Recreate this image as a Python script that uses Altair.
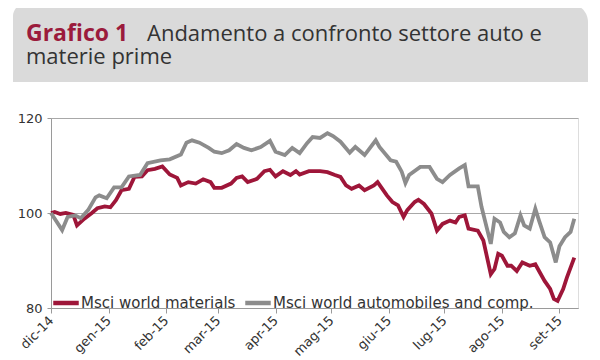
import altair as alt
import pandas as pd

# ---- data ----
auto_dates = ["2014-12-01","2014-12-07","2014-12-10","2014-12-14","2014-12-17","2014-12-21","2014-12-25",
              "2014-12-27","2014-12-31","2015-01-04","2015-01-08","2015-01-12","2015-01-18","2015-01-22",
              "2015-01-29","2015-02-03","2015-02-09","2015-02-12","2015-02-15","2015-02-19","2015-02-24",
              "2015-02-27","2015-03-03","2015-03-07","2015-03-11","2015-03-15","2015-03-19","2015-03-24",
              "2015-03-29","2015-04-01","2015-04-06","2015-04-10","2015-04-14","2015-04-18","2015-04-21",
              "2015-04-25","2015-04-29","2015-05-02","2015-05-06","2015-05-11","2015-05-14","2015-05-19",
              "2015-05-25","2015-05-27","2015-06-02","2015-06-05","2015-06-08","2015-06-10","2015-06-12",
              "2015-06-18","2015-06-23","2015-06-27","2015-06-30","2015-07-04","2015-07-09","2015-07-12",
              "2015-07-14","2015-07-19","2015-07-21","2015-07-26","2015-07-28","2015-07-31","2015-08-02",
              "2015-08-05","2015-08-08","2015-08-11","2015-08-13","2015-08-16","2015-08-19","2015-08-21",
              "2015-08-24","2015-08-27","2015-08-30","2015-09-01","2015-09-04","2015-09-07","2015-09-09"]
auto_values = [100, 96.4, 99.2, 99.5, 98.9, 100.6, 103.3,
               103.7, 103.1, 105.4, 105.4, 107.7, 108.0, 110.5,
               111.1, 111.3, 112.3, 114.8, 115.3, 114.8, 113.7,
               112.9, 112.6, 113.2, 114.5, 113.7, 113.2, 113.9,
               115.2, 112.9, 112.2, 113.7, 112.6, 114.7, 116.0,
               115.8, 116.8, 116.2, 115.0, 112.7, 113.9, 112.2,
               115.3, 113.9, 111.1, 110.8, 108.7, 106.3, 108.0,
               109.7, 109.7, 107.2, 106.5, 108.0, 109.4, 110.1,
               105.6, 105.6, 101.3, 93.5, 98.8, 98.0, 96.0,
               94.9, 95.7, 99.5, 97.4, 96.7, 100.9, 98.4,
               94.9, 93.8, 89.6, 93.0, 94.9, 96.0, 98.8]

mat_dates = ["2014-12-01","2014-12-03","2014-12-06","2014-12-09","2014-12-13","2014-12-15","2014-12-19",
             "2014-12-23","2014-12-26","2014-12-30","2015-01-02","2015-01-05","2015-01-08","2015-01-12",
             "2015-01-15","2015-01-19","2015-01-22","2015-01-26","2015-01-30","2015-02-03","2015-02-07",
             "2015-02-09","2015-02-13","2015-02-17","2015-02-21","2015-02-25","2015-02-27","2015-03-03",
             "2015-03-08","2015-03-11","2015-03-14","2015-03-17","2015-03-22","2015-03-26","2015-03-29",
             "2015-04-01","2015-04-05","2015-04-09","2015-04-12","2015-04-14","2015-04-19","2015-04-25",
             "2015-04-29","2015-05-03","2015-05-06","2015-05-09","2015-05-12","2015-05-16","2015-05-19",
             "2015-05-24","2015-05-26","2015-05-31","2015-06-03","2015-06-06","2015-06-09","2015-06-11",
             "2015-06-15","2015-06-17","2015-06-20","2015-06-24","2015-06-27","2015-06-30","2015-07-04",
             "2015-07-07","2015-07-09","2015-07-12","2015-07-14","2015-07-19","2015-07-22","2015-07-26",
             "2015-07-28","2015-07-30","2015-08-01","2015-08-04","2015-08-06","2015-08-09","2015-08-12",
             "2015-08-16","2015-08-19","2015-08-21","2015-08-24","2015-08-27","2015-08-29","2015-08-31",
             "2015-09-03","2015-09-05","2015-09-09"]
mat_values = [100, 100.2, 99.8, 100.0, 99.6, 97.4, 98.8,
              100.0, 101.0, 101.4, 101.2, 102.7, 104.8, 105.1,
              107.6, 107.7, 109.0, 109.3, 109.8, 108.1, 107.4,
              105.8, 106.5, 106.2, 107.1, 106.5, 105.3, 105.3,
              106.2, 107.4, 107.7, 106.5, 107.2, 108.8, 109.1,
              107.7, 108.8, 108.0, 108.8, 108.1, 108.8, 108.8,
              108.6, 108.0, 107.6, 105.8, 105.1, 105.8, 104.8,
              105.8, 106.5, 103.7, 102.3, 101.6, 99.2, 100.6,
              102.3, 102.8, 101.9, 99.9, 96.3, 97.7, 98.4,
              98.0, 99.2, 99.5, 96.7, 96.3, 94.2, 87.1,
              88.2, 91.4, 91.0, 88.9, 88.9, 87.8, 89.6,
              88.9, 89.2, 87.8, 85.7, 84.0, 81.9, 81.5,
              84.0, 86.4, 90.6]

series_names = ["Msci world materials", "Msci world automobiles and comp."]
series_colors = ["#9e1639", "#8c8c8c"]
y_ticks = [80, 100, 120]
month_names = ["gen", "feb", "mar", "apr", "mag", "giu", "lug", "ago", "set", "ott", "nov", "dic"]
tick_months = [(2014, 12), (2015, 1), (2015, 2), (2015, 3), (2015, 4), (2015, 5),
               (2015, 6), (2015, 7), (2015, 8), (2015, 9)]
title_bold = "Grafico 1"
title_rest = "Andamento a confronto settore auto e"
title_line2 = "materie prime"

df_mat = pd.DataFrame({"date": mat_dates, "value": mat_values, "serie": series_names[0]})
df_auto = pd.DataFrame({"date": auto_dates, "value": auto_values, "serie": series_names[1]})

month_js = "[" + ",".join(f"'{m}'" for m in month_names) + "]"
x_enc = alt.X(
    "date:T",
    scale=alt.Scale(type="utc",
                    domain=[alt.DateTime(year=2014, month=12, date=1, utc=True),
                            alt.DateTime(year=2015, month=9, date=11, utc=True)]),
    axis=alt.Axis(
        title=None,
        values=[alt.DateTime(year=y, month=m, date=1, utc=True) for y, m in tick_months],
        labelExpr=month_js + "[utcmonth(datum.value)] + '-' + utcFormat(datum.value, '%y')",
        labelAngle=-45, labelAlign="right", labelBaseline="middle",
        labelFontSize=13, labelColor="#333333", labelFont="DejaVu Sans",
        labelPadding=5, tickSize=5, tickColor="#9a9a9a", domainColor="#9a9a9a",
        grid=False, labelOverlap=False, labelBound=False, labelFlush=False,
    ),
)
y_enc = alt.Y(
    "value:Q",
    scale=alt.Scale(domain=[80, 120], nice=False, zero=False),
    axis=alt.Axis(title=None, values=y_ticks, labelFontSize=13, labelColor="#333333",
                  labelFont="DejaVu Sans", tickSize=4, tickColor="#9a9a9a",
                  domainColor="#9a9a9a", gridColor="#a8a8a8", labelPadding=5),
)
color_enc = alt.Color(
    "serie:N",
    scale=alt.Scale(domain=series_names, range=series_colors),
    legend=alt.Legend(title=None, orient="none", legendX=0, legendY=170, direction="horizontal",
                      symbolType="stroke", symbolSize=650, symbolStrokeWidth=4.5,
                      labelFontSize=15, labelColor="#333333", labelFont="DejaVu Sans",
                      labelLimit=0, labelOffset=0, columnPadding=0, symbolOffset=0),
)

line_mat = alt.Chart(df_mat).mark_line(strokeWidth=3.8).encode(x=x_enc, y=y_enc, color=color_enc)
line_auto = alt.Chart(df_auto).mark_line(strokeWidth=3.8).encode(x=x_enc, y=y_enc, color=color_enc)

one = pd.DataFrame({"a": [1]})
box = alt.Chart(one).mark_rect(color="#dadada", cornerRadiusTopRight=18, cornerRadiusTopLeft=12).encode(
    x=alt.value(-38), x2=alt.value(537), y=alt.value(-114), y2=alt.value(-36))
t1 = alt.Chart(pd.DataFrame({"t": [title_bold]})).mark_text(
    align="left", baseline="alphabetic", font="Open Sans", fontSize=23, fontWeight="bold",
    color="#9b1b3c").encode(x=alt.value(-25), y=alt.value(-77), text="t:N")
t2 = alt.Chart(pd.DataFrame({"t": [title_rest]})).mark_text(
    align="left", baseline="alphabetic", font="Open Sans", fontSize=22,
    color="#333333").encode(x=alt.value(96), y=alt.value(-77), text="t:N")
t3 = alt.Chart(pd.DataFrame({"t": [title_line2]})).mark_text(
    align="left", baseline="alphabetic", font="Open Sans", fontSize=22,
    color="#333333").encode(x=alt.value(-25), y=alt.value(-54), text="t:N")

chart = alt.layer(box, t1, t2, t3, line_mat, line_auto).properties(
    width=527, height=190,
    autosize=alt.AutoSizeParams(type="none"),
    padding={"left": 43, "top": 110, "right": 14, "bottom": 50},
).configure_view(stroke=None).configure(background="white")

chart.save("out.html", embed_options={"renderer": "svg", "actions": False})
